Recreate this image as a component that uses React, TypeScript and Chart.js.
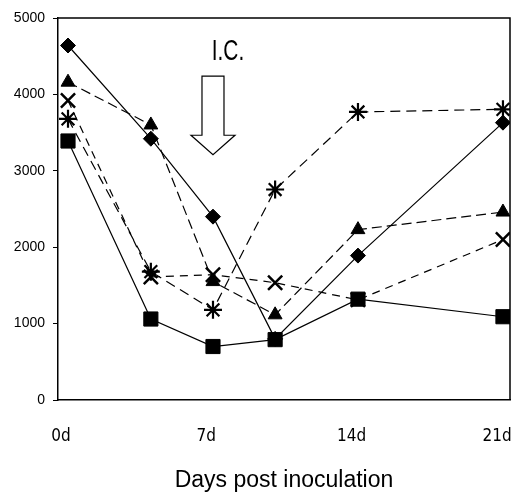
import React, { useEffect, useRef } from 'react';
import { Chart, registerables } from 'chart.js';

Chart.register(...registerables);

const days = [0, 4, 7, 10, 14, 21];
const tickDays = [0, 7, 14, 21];
const diamondValues = [4640, 3420, 2400, 800, 1890, 3630];
const triangleValues = [4160, 3600, 1550, 1115, 2230, 2460];
const crossValues = [3920, 1610, 1640, 1535, 1310, 2100];
const asteriskValues = [3680, 1680, 1180, 2755, 3770, 3805];
const squareValues = [3390, 1060, 700, 790, 1320, 1090];
const xTitle = 'Days post inoculation';
const noteText = 'I.C.';
const noteDay = 7;

const narrow = "'DejaVu Sans Condensed', 'Liberation Sans', Arial, sans-serif";
const sans = "'Liberation Sans', Arial, sans-serif";

const toXY = (vals: number[]) => vals.map((v, i) => ({ x: days[i], y: v }));

const framePlugin = {
  id: 'frameAndNote',
  afterDraw(chart: any) {
    const { ctx, chartArea, scales } = chart;
    ctx.save();
    ctx.strokeStyle = '#000';
    ctx.lineWidth = 1.5;
    ctx.beginPath();
    ctx.moveTo(chartArea.left, chartArea.top);
    ctx.lineTo(chartArea.right, chartArea.top);
    ctx.lineTo(chartArea.right, chartArea.bottom);
    ctx.stroke();

    // arrow annotation
    const cx = scales.x.getPixelForValue(noteDay);
    const yTop = scales.y.getPixelForValue(4240);
    const yBase = scales.y.getPixelForValue(3465);
    const yTip = scales.y.getPixelForValue(3210);
    ctx.lineWidth = 1.2;
    ctx.fillStyle = '#fff';
    ctx.beginPath();
    ctx.moveTo(cx - 11, yTop);
    ctx.lineTo(cx + 11, yTop);
    ctx.lineTo(cx + 11, yBase);
    ctx.lineTo(cx + 22, yBase);
    ctx.lineTo(cx, yTip);
    ctx.lineTo(cx - 22, yBase);
    ctx.lineTo(cx - 11, yBase);
    ctx.closePath();
    ctx.fill();
    ctx.stroke();

    ctx.fillStyle = '#000';
    ctx.font = `29px ${sans}`;
    ctx.textAlign = 'center';
    ctx.textBaseline = 'middle';
    ctx.translate(cx + 15, scales.y.getPixelForValue(4560));
    ctx.scale(0.72, 1);
    ctx.fillText(noteText, 0, 0);
    ctx.restore();
  },
};

export default function App() {
  const ref = useRef<HTMLCanvasElement | null>(null);

  useEffect(() => {
    if (!ref.current) return;
    const common = {
      borderColor: '#000',
      backgroundColor: '#000',
      pointBackgroundColor: '#000',
      pointBorderColor: '#000',
      borderWidth: 1.2,
      fill: false,
      tension: 0,
      xAxisID: 'x',
      yAxisID: 'y',
    };
    const chart = new Chart(ref.current, {
      type: 'line',
      data: {
        datasets: [
          { ...common, label: 'diamond', data: toXY(diamondValues), pointStyle: 'rectRot', pointRadius: 7.5, pointBorderWidth: 1 },
          { ...common, label: 'triangle', data: toXY(triangleValues), borderDash: [10, 5], pointStyle: 'triangle', pointRadius: 8, pointBorderWidth: 1 },
          { ...common, label: 'cross', data: toXY(crossValues), borderDash: [8, 6], pointStyle: 'crossRot', pointRadius: 10, pointBorderWidth: 2.5 },
          { ...common, label: 'asterisk', data: toXY(asteriskValues), borderDash: [10, 6], pointStyle: 'star', pointRadius: 9, pointBorderWidth: 2.2 },
          { ...common, label: 'square', data: toXY(squareValues), pointStyle: 'rect', pointRadius: 10, pointBorderWidth: 1 },
        ],
      },
      options: {
        animation: false,
        responsive: false,
        maintainAspectRatio: false,
        layout: { autoPadding: false, padding: { top: 18, right: 1, bottom: 0, left: 0 } },
        plugins: {
          legend: { display: false },
          tooltip: { enabled: false },
        },
        scales: {
          x: {
            type: 'linear',
            display: false,
            min: -0.483,
            max: 21.34,
          },
          xt: {
            type: 'linear',
            position: 'bottom',
            min: -0.1445,
            max: 21.626,
            afterBuildTicks: (scale: any) => {
              scale.ticks = tickDays.map((v) => ({ value: v }));
            },
            afterFit: (scale: any) => {
              scale.height = 95;
              scale.paddingLeft = 0;
              scale.paddingRight = 0;
            },
            grid: { display: true, drawOnChartArea: false, drawTicks: false },
            border: { display: true, color: '#000', width: 1.5 },
            ticks: {
              color: '#000',
              padding: 26,
              maxRotation: 0,
              autoSkip: false,
              font: { family: narrow, size: 17 },
              callback: (v: any) => `${v}d`,
            },
            title: {
              display: true,
              text: xTitle,
              color: '#000',
              font: { family: sans, size: 23 },
              padding: { top: 0, bottom: 1 },
            },
          },
          y: {
            type: 'linear',
            min: 0,
            max: 5000,
            afterBuildTicks: (scale: any) => {
              scale.ticks = [0, 1000, 2000, 3000, 4000, 5000].map((v) => ({ value: v }));
            },
            afterFit: (scale: any) => {
              scale.width = 58;
              scale.paddingTop = 0;
              scale.paddingBottom = 0;
            },
            grid: { display: true, drawOnChartArea: false, drawTicks: true, tickLength: 5, color: '#000', tickColor: '#000' },
            border: { display: true, color: '#000', width: 1.5 },
            ticks: {
              color: '#000',
              padding: 8,
              font: { family: sans, size: 14 },
              callback: (v: any) => String(v),
            },
          },
        },
      },
      plugins: [framePlugin],
    });
    return () => chart.destroy();
  }, []);

  return (
    <div style={{ position: 'absolute', left: 0, top: 0, width: 511, height: 495, background: '#fff' }}>
      <canvas ref={ref} width={511} height={495} />
    </div>
  );
}
